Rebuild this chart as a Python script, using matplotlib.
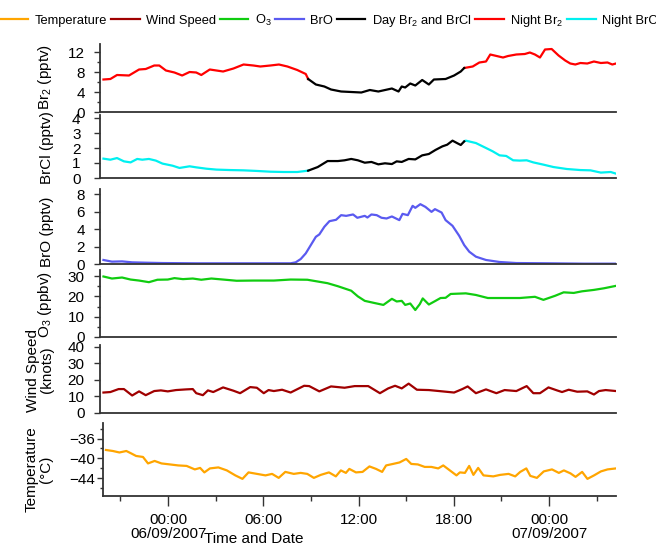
import numpy as np
import matplotlib
matplotlib.use('Agg')
import matplotlib.pyplot as plt
import matplotlib.dates as mdates
from matplotlib.ticker import MultipleLocator, FuncFormatter

plt.rcParams['font.family'] = ['Liberation Sans', 'DejaVu Sans']
plt.rcParams['font.size'] = 10.5

# times are hours after 06/09/2007 00:00
T0 = np.datetime64('2007-09-06T00:00')
DAY_START, DAY_END = 8.92, 18.70

br2_h = [-3.91, -3.49, -3.06, -2.32, -1.69, -1.27, -0.74, -0.42, 0.0, 0.53, 1.01, 1.48, 1.90,
         2.22, 2.75, 3.59, 4.23, 4.86, 5.49, 5.92, 6.55, 7.08, 7.61, 8.24, 8.77, 8.92, 9.40,
         9.93, 10.35, 10.99, 11.62, 12.25, 12.78, 13.31, 14.16, 14.58, 14.79, 15.00, 15.32,
         15.63, 16.06, 16.48, 16.80, 17.54, 18.06, 18.49, 18.70, 19.23, 19.65, 20.07, 20.33,
         20.60, 21.13, 21.45, 21.97, 22.50, 22.82, 23.14, 23.45, 23.77, 24.19, 24.62, 25.04,
         25.35, 25.67, 25.99, 26.41, 26.83, 27.26, 27.68, 27.99, 28.21]
br2 = [6.5, 6.6, 7.4, 7.3, 8.5, 8.6, 9.3, 9.3, 8.3, 7.9, 7.3, 8.0, 7.9,
       7.4, 8.5, 8.1, 8.7, 9.5, 9.3, 9.1, 9.3, 9.5, 9.1, 8.4, 7.6, 6.6, 5.5,
       5.1, 4.5, 4.1, 4.0, 3.9, 4.4, 4.1, 4.7, 4.1, 5.1, 4.9, 5.7,
       5.3, 6.4, 5.5, 6.5, 6.6, 7.3, 8.1, 8.8, 9.1, 9.9, 10.1, 11.5,
       11.3, 10.9, 11.2, 11.5, 11.6, 11.9, 11.5, 10.9, 12.5, 12.6, 11.3, 10.3,
       9.7, 9.5, 9.8, 9.7, 10.1, 9.8, 9.9, 9.5, 9.7]

brcl_h = [-3.91, -3.49, -3.06, -2.64, -2.22, -1.80, -1.48, -1.06, -0.63, -0.21, 0.42, 0.85,
          1.48, 1.90, 2.54, 3.17, 4.01, 4.86, 5.70, 6.55, 7.39, 8.24, 8.92, 9.51, 10.14,
          10.78, 11.20, 11.62, 12.04, 12.47, 12.89, 13.31, 13.73, 14.16, 14.47, 14.79, 15.21,
          15.63, 16.06, 16.48, 16.90, 17.33, 17.64, 17.96, 18.28, 18.49, 18.70, 18.80, 19.44,
          20.07, 20.49, 20.92, 21.34, 21.76, 22.18, 22.61, 23.03, 23.66, 24.30, 25.14, 25.99,
          26.62, 27.26, 27.89, 28.21]
brcl = [1.29, 1.22, 1.33, 1.11, 1.04, 1.27, 1.22, 1.27, 1.16, 0.96, 0.82, 0.67,
        0.78, 0.71, 0.62, 0.56, 0.53, 0.51, 0.47, 0.42, 0.40, 0.40, 0.49, 0.73, 1.13,
        1.13, 1.18, 1.27, 1.18, 1.02, 1.07, 0.91, 0.98, 0.93, 1.11, 1.07, 1.27,
        1.24, 1.51, 1.60, 1.87, 2.11, 2.22, 2.49, 2.31, 2.20, 2.44, 2.49, 2.33,
        2.00, 1.78, 1.51, 1.47, 1.18, 1.16, 1.18, 1.04, 0.89, 0.73, 0.60, 0.53,
        0.51, 0.36, 0.40, 0.29]

bro_h = [-3.91, -3.38, -2.75, -2.11, -1.27, -0.21, 1.90, 4.01, 6.13, 7.82, 8.13, 8.45, 8.77,
         9.09, 9.40, 9.61, 9.93, 10.25, 10.67, 10.99, 11.30, 11.73, 12.00, 12.47, 12.63,
         12.89, 13.21, 13.52, 13.84, 14.16, 14.64, 14.83, 15.17, 15.47, 15.63, 15.95, 16.27,
         16.65, 16.86, 17.28, 17.54, 17.96, 18.38, 18.70, 19.02, 19.44, 20.07, 20.92, 21.97,
         24.09, 26.20, 28.21]
bro = [0.46, 0.27, 0.30, 0.19, 0.15, 0.11, 0.08, 0.08, 0.08, 0.08, 0.19, 0.57, 1.22,
       2.17, 3.12, 3.39, 4.27, 4.91, 5.07, 5.60, 5.52, 5.68, 5.30, 5.52, 5.33,
       5.68, 5.60, 5.30, 5.22, 5.45, 5.03, 5.75, 5.60, 6.67, 6.44, 6.86, 6.55,
       5.98, 6.29, 5.90, 5.03, 4.38, 3.24, 2.17, 1.41, 0.84, 0.46, 0.23, 0.11,
       0.08, 0.04, 0.04]

o3_h = [-3.91, -3.38, -2.75, -2.22, -1.69, -1.06, -0.53, 0.11, 0.53, 1.06, 1.69, 2.22, 2.85,
        3.59, 4.44, 5.49, 6.76, 7.82, 8.87, 10.14, 10.78, 11.62, 12.04, 12.47, 13.10, 13.63,
        14.16, 14.47, 14.79, 15.00, 15.32, 15.63, 15.91, 16.10, 16.48, 16.90, 17.22, 17.54,
        17.85, 18.80, 19.44, 20.18, 21.13, 22.18, 23.14, 23.66, 24.40, 24.93, 25.56, 26.09,
        26.83, 27.47, 28.21]
o3 = [29.8, 28.8, 29.3, 28.3, 27.8, 27.0, 28.2, 28.3, 29.0, 28.5, 28.8, 28.2, 28.8,
      28.3, 27.7, 27.8, 27.8, 28.3, 28.2, 26.5, 25.0, 22.8, 20.0, 17.8, 16.7, 15.8,
      18.8, 17.5, 17.8, 15.8, 16.5, 13.3, 16.2, 19.0, 16.0, 17.8, 19.2, 19.3,
      21.2, 21.5, 20.7, 19.2, 19.2, 19.2, 19.8, 18.3, 20.3, 22.0, 21.7, 22.5,
      23.2, 24.0, 25.2]

wind_h = [-3.91, -3.49, -2.96, -2.64, -2.11, -1.69, -1.27, -0.74, -0.32, 0.11, 0.63, 1.27,
          1.69, 1.90, 2.32, 2.64, 2.96, 3.59, 4.23, 4.65, 5.28, 5.70, 6.13, 6.44, 6.76,
          7.29, 7.82, 8.66, 8.98, 9.61, 10.35, 11.20, 11.83, 12.68, 13.42, 13.94, 14.37,
          14.79, 15.21, 15.74, 16.48, 17.33, 18.06, 18.59, 18.91, 19.44, 20.07, 20.71, 21.23,
          21.97, 22.61, 23.03, 23.45, 23.98, 24.51, 24.83, 25.25, 25.78, 26.41, 26.83, 27.15,
          27.57, 28.21]
wind = [12.4, 12.7, 14.5, 14.5, 10.6, 13.1, 10.8, 13.3, 13.7, 13.1, 13.9, 14.3,
        14.5, 12.0, 10.8, 13.7, 12.7, 15.5, 13.5, 12.0, 15.7, 15.3, 12.0, 13.9, 13.3,
        14.1, 12.4, 16.5, 16.3, 13.1, 16.1, 15.3, 16.3, 16.3, 12.0, 14.9, 16.5,
        14.9, 17.8, 14.1, 13.9, 13.1, 12.4, 14.5, 16.1, 12.0, 14.3, 12.0, 13.9,
        13.3, 16.3, 12.0, 12.0, 15.5, 13.7, 12.7, 14.1, 12.9, 13.1, 11.2, 13.3,
        13.9, 13.3]

temp_h = [-3.91, -3.49, -3.06, -2.64, -2.32, -2.01, -1.58, -1.27, -0.85, -0.42, 0.11, 0.63,
          1.16, 1.69, 2.01, 2.28, 2.64, 3.17, 3.70, 4.23, 4.69, 5.07, 5.60, 6.13, 6.55,
          6.97, 7.39, 7.92, 8.35, 8.77, 9.19, 9.61, 10.14, 10.56, 10.88, 11.20, 11.41,
          11.83, 12.25, 12.68, 13.10, 13.48, 13.73, 14.16, 14.58, 15.00, 15.32, 15.74, 16.16,
          16.59, 17.01, 17.33, 17.75, 18.17, 18.38, 18.70, 18.97, 19.23, 19.54, 19.86, 20.49,
          20.92, 21.45, 21.87, 22.18, 22.56, 22.82, 23.24, 23.66, 24.19, 24.62, 24.93, 25.35,
          25.67, 26.09, 26.41, 26.83, 27.26, 27.68, 28.21]
temp = [-38.3, -38.5, -38.8, -38.5, -39.0, -39.5, -39.7, -41.0, -40.5, -41.0, -41.2, -41.4,
        -41.5, -42.2, -41.9, -42.8, -42.0, -41.8, -42.4, -43.4, -44.1, -42.8, -43.1, -43.4, -43.1,
        -43.9, -42.7, -43.1, -42.9, -43.1, -43.9, -43.3, -42.8, -43.6, -42.4, -42.9, -42.1,
        -42.8, -42.7, -41.6, -42.1, -42.7, -41.4, -41.1, -40.8, -40.1, -41.1, -41.2, -41.7,
        -41.7, -42.0, -41.4, -42.4, -43.4, -42.8, -42.9, -41.5, -43.3, -41.9, -43.4, -43.6,
        -43.3, -43.1, -43.6, -42.7, -42.0, -43.5, -43.9, -42.6, -42.2, -42.9, -42.4, -43.0,
        -43.7, -42.7, -44.1, -43.4, -42.6, -42.2, -42.0]

C_TEMP, C_WIND, C_O3, C_BRO = '#FFA500', '#A00000', '#10CC10', '#5A5AF0'
C_DAY, C_NIGHT_BR2, C_NIGHT_BRCL = 'black', '#FF0000', '#00F0F0'
AXIS_COLOR = '#333333'


def to_time(hours):
    return T0 + np.round(np.asarray(hours) * 60).astype(int).astype('timedelta64[m]')


W, H = 656, 545


def rect(top, bottom, left=100):
    return [left / W, 1 - bottom / H, (616 - left) / W, (bottom - top) / H]


fig = plt.figure(figsize=(W / 100, H / 100), dpi=100)

# panel pixel extents, top to bottom
ax_br2 = fig.add_axes(rect(44, 112))
ax_brcl = fig.add_axes(rect(115, 178))
ax_bro = fig.add_axes(rect(189, 264))
ax_o3 = fig.add_axes(rect(270, 337))
ax_wind = fig.add_axes(rect(345, 413))
ax_temp = fig.add_axes(rect(422.6, 495.8, left=102.5))
axes = [ax_br2, ax_brcl, ax_bro, ax_o3, ax_wind, ax_temp]

LW = 1.6


def plot_day_night(ax, hours, values, night_color, night_label, day_label):
    h = np.asarray(hours)
    v = np.asarray(values)
    t = to_time(h)
    before = h <= DAY_START
    day = (h >= DAY_START) & (h <= DAY_END)
    after = h >= DAY_END
    ln_night, = ax.plot(t[before], v[before], color=night_color, lw=LW, label=night_label)
    ax.plot(t[after], v[after], color=night_color, lw=LW)
    ln_day, = ax.plot(t[day], v[day], color=C_DAY, lw=LW, label=day_label)
    return ln_night, ln_day


ln_nbr2, ln_day = plot_day_night(ax_br2, br2_h, br2, C_NIGHT_BR2,
                                 'Night Br$\\mathregular{_2}$',
                                 'Day Br$\\mathregular{_2}$ and BrCl')
ln_nbrcl, _ = plot_day_night(ax_brcl, brcl_h, brcl, C_NIGHT_BRCL, 'Night BrCl', None)
ln_bro, = ax_bro.plot(to_time(bro_h), bro, color=C_BRO, lw=LW, label='BrO')
ln_o3, = ax_o3.plot(to_time(o3_h), o3, color=C_O3, lw=LW, label='O$\\mathregular{_3}$')
ln_wind, = ax_wind.plot(to_time(wind_h), wind, color=C_WIND, lw=LW, label='Wind Speed')
ln_temp, = ax_temp.plot(to_time(temp_h), temp, color=C_TEMP, lw=LW, label='Temperature')

ylims = [(0, 13.6), (0, 4.2), (0, 8.6), (0, 33), (0, 41.2), (-47.5, -32.8)]
majors = [4, 1, 2, 10, 10, 4]
minors = [2, None, None, 5, None, 2]
labels = ['Br$\\mathregular{_2}$ (pptv)', 'BrCl (pptv)', 'BrO (pptv)',
          'O$\\mathregular{_3}$ (ppbv)', 'Wind Speed\n(knots)', 'Temperature\n(°C)']
label_y = [0.52, 0.48, 0.43, 0.48, 0.63, 0.36]
tick_pads = [7, 10, 7, 7, 7, 1.5]

xmin, xmax = to_time(-4.13), to_time(28.22)

for ax, yl, mj, mn, lab, ly, pad in zip(axes, ylims, majors, minors, labels, label_y,
                                         tick_pads):
    ax.set_xlim(xmin, xmax)
    ax.set_ylim(*yl)
    ax.patch.set_alpha(0)
    for side in ('top', 'right'):
        ax.spines[side].set_visible(False)
    for side in ('left', 'bottom'):
        ax.spines[side].set_color(AXIS_COLOR)
        ax.spines[side].set_linewidth(1.3)
    ax.yaxis.set_major_locator(MultipleLocator(mj))
    if mn:
        ax.yaxis.set_minor_locator(MultipleLocator(mn))
    ax.tick_params(axis='y', which='major', direction='out', length=4, width=1,
                   color=AXIS_COLOR, pad=pad, labelsize=11)
    ax.tick_params(axis='y', which='minor', direction='out', length=2.5, width=1,
                   color=AXIS_COLOR)
    ax.set_ylabel(lab, fontsize=11, linespacing=1.0)
    ax.yaxis.set_label_coords(-0.09, ly)
    if ax is not ax_temp:
        ax.tick_params(axis='x', which='both', bottom=False, labelbottom=False)

ax_temp.yaxis.set_label_coords((53 - 102.5) / (616 - 102.5), 0.36)


def time_label(x, pos):
    d = mdates.num2date(x)
    if d.hour == 0:
        return d.strftime('%H:%M\n%d/%m/%Y')
    return d.strftime('%H:%M')


ax_temp.xaxis.set_major_locator(mdates.HourLocator(byhour=[0, 6, 12, 18]))
ax_temp.xaxis.set_minor_locator(mdates.HourLocator(byhour=[3, 9, 15, 21]))
ax_temp.xaxis.set_major_formatter(FuncFormatter(time_label))
ax_temp.tick_params(axis='x', which='major', direction='out', length=7, width=1,
                    color=AXIS_COLOR, pad=5.5, labelsize=11)
ax_temp.tick_params(axis='x', which='minor', direction='out', length=3.5, width=1,
                    color=AXIS_COLOR)
for t in ax_temp.get_xticklabels():
    t.set_linespacing(1.0)

fig.text(254 / W, 1 - 539 / H, 'Time and Date', ha='center', va='center', fontsize=11)

handles = [ln_temp, ln_wind, ln_o3, ln_bro, ln_day, ln_nbr2, ln_nbrcl]
fig.legend(handles=handles, labels=[h.get_label() for h in handles],
           loc='center left', bbox_to_anchor=(0.0, 1 - 21 / H), ncol=7,
           frameon=False, fontsize=9.3, handlelength=2.2, handletextpad=0.5,
           columnspacing=0.3, borderpad=0, borderaxespad=0)

fig.savefig('out.png', dpi=100)
